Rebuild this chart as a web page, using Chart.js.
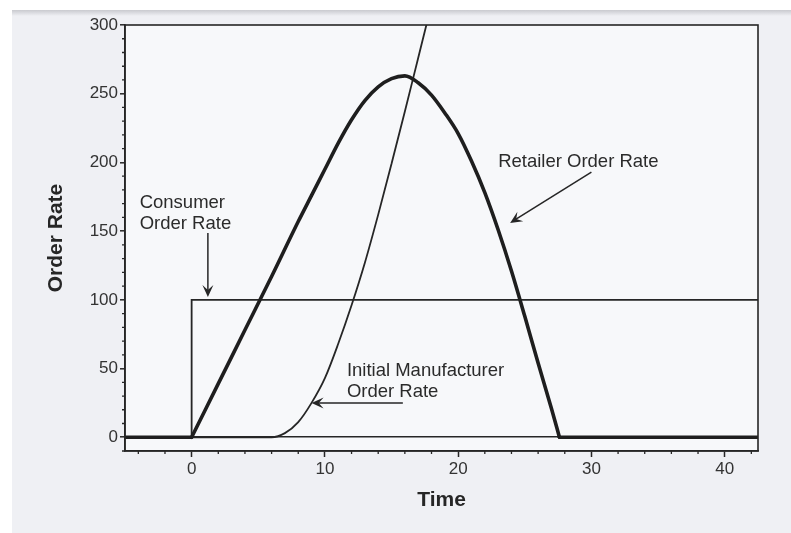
<!DOCTYPE html>
<html>
<head>
<meta charset="utf-8">
<script src="https://cdn.jsdelivr.net/npm/chart.js@4.4.1/dist/chart.umd.min.js"></script>
<style>
  html, body { margin: 0; padding: 0; background: #ffffff; }
  #wrap { width: 791px; height: 533px; }
</style>
</head>
<body>
<div id="wrap"><canvas id="c" width="791" height="533"></canvas></div>
<script>
// ---- data ----
const xTicks = [0, 10, 20, 30, 40];
const yTicks = [0, 50, 100, 150, 200, 250, 300];

const consumerTime  = [-5, 0, 0, 42.5];
const consumerRate  = [0, 0, 100, 100];

const retailerTime  = [-5, 0, 2, 4, 6, 8, 9, 10, 11, 12, 13, 14, 15, 16, 17, 18, 19, 20, 21, 22, 23, 24, 25, 26, 27, 27.6, 42.5];
const retailerRate  = [0, 0, 39, 78, 117, 157, 176, 195, 214, 231, 245, 255, 261, 263, 258, 249, 236, 221, 201, 178, 151, 121, 88, 54, 21, 0, 0];

const manufTime     = [-5, 6, 7, 8, 9, 10, 11, 12, 13, 14, 15, 16, 17, 18];
const manufRate     = [0, 0, 3, 11, 25, 43, 68, 96, 127, 162, 199, 237, 276, 315];

// annotation labels (text, anchor in data units) and arrows (from -> to, data units)
const labelTexts  = [["Consumer", "Order Rate"], ["Retailer Order Rate"], ["Initial Manufacturer", "Order Rate"]];
const labelAnchor = [[-3.9, 170.5], [23.0, 200.4], [11.65, 48.3]];
const arrowFrom   = [[1.22, 148.7], [30.0, 193], [15.85, 25]];
const arrowTo     = [[1.22, 102], [23.9, 156], [9.0, 25]];

const toPts = (xs, ys) => xs.map((x, i) => ({ x: x, y: ys[i] }));
const retailerPts = toPts(retailerTime, retailerRate);
const rampStart = retailerRate.findIndex((v, i) => i > 0 && v > 0) - 1;   // last zero before the rise
let rampEnd = retailerRate.length - 1;
while (rampEnd > 0 && retailerRate[rampEnd - 1] === 0) rampEnd--;          // first zero after the fall

const INK = '#262626';

const decorPlugin = {
  id: 'decor',
  beforeDraw(chart) {
    const { ctx, chartArea: a } = chart;
    ctx.save();
    ctx.fillStyle = '#ffffff';
    ctx.fillRect(0, 0, chart.width, chart.height);
    ctx.fillStyle = '#eff0f4';
    ctx.fillRect(12, 11, chart.width - 12, chart.height - 11);
    const g = ctx.createLinearGradient(0, 10, 0, 16);
    g.addColorStop(0, '#c9cacf');
    g.addColorStop(1, '#eff0f4');
    ctx.fillStyle = g;
    ctx.fillRect(12, 10, chart.width - 12, 6);
    ctx.fillStyle = '#f7f8fa';
    ctx.fillRect(a.left, a.top, a.right - a.left, a.bottom - a.top);
    ctx.restore();
  },
  afterDraw(chart) {
    const { ctx, chartArea: a, scales } = chart;
    const xs = scales.x, ys = scales.y;
    ctx.save();
    // frame
    ctx.strokeStyle = INK;
    ctx.lineWidth = 1.6;
    ctx.strokeRect(a.left, a.top, a.right - a.left, a.bottom - a.top);
    // minor ticks
    ctx.lineWidth = 1.3;
    ctx.beginPath();
    for (let v = -10; v <= 300; v += 10) {
      if (v % 50 === 0) continue;
      const p = ys.getPixelForValue(v);
      ctx.moveTo(a.left - 3, p); ctx.lineTo(a.left, p);
    }
    for (let t = -4; t <= 42; t += 2) {
      if (t % 10 === 0) continue;
      const p = xs.getPixelForValue(t);
      ctx.moveTo(p, a.bottom); ctx.lineTo(p, a.bottom + 3);
    }
    ctx.stroke();
    // labels
    ctx.fillStyle = '#2b2b2b';
    ctx.font = '18.5px "Liberation Sans", Arial, sans-serif';
    ctx.textBaseline = 'middle';
    ctx.textAlign = 'left';
    labelTexts.forEach((lines, i) => {
      const x = xs.getPixelForValue(labelAnchor[i][0]);
      const y = ys.getPixelForValue(labelAnchor[i][1]);
      lines.forEach((ln, j) => ctx.fillText(ln, x, y + j * 21));
    });
    // arrows
    ctx.strokeStyle = INK;
    ctx.fillStyle = INK;
    ctx.lineWidth = 1.5;
    arrowFrom.forEach((f, i) => {
      const x1 = xs.getPixelForValue(f[0]), y1 = ys.getPixelForValue(f[1]);
      const x2 = xs.getPixelForValue(arrowTo[i][0]), y2 = ys.getPixelForValue(arrowTo[i][1]);
      const ang = Math.atan2(y2 - y1, x2 - x1);
      ctx.beginPath();
      ctx.moveTo(x1, y1); ctx.lineTo(x2 - 6 * Math.cos(ang), y2 - 6 * Math.sin(ang));
      ctx.stroke();
      const L = 12, W = 5.5;
      const bx = x2 - L * Math.cos(ang), by = y2 - L * Math.sin(ang);
      const nx = -Math.sin(ang), ny = Math.cos(ang);
      const mx = x2 - (L * 0.6) * Math.cos(ang), my = y2 - (L * 0.6) * Math.sin(ang);
      ctx.beginPath();
      ctx.moveTo(x2, y2);
      ctx.lineTo(bx + nx * W, by + ny * W);
      ctx.lineTo(mx, my);
      ctx.lineTo(bx - nx * W, by - ny * W);
      ctx.closePath();
      ctx.fill();
    });
    ctx.restore();
  }
};

const thick = { borderColor: '#1e1e1e', borderWidth: 3.6, pointRadius: 0, borderCapStyle: 'round', borderJoinStyle: 'round', order: 1 };

new Chart(document.getElementById('c'), {
  type: 'line',
  data: {
    datasets: [
      { label: 'Consumer Order Rate', data: toPts(consumerTime, consumerRate),
        borderColor: INK, borderWidth: 1.8, pointRadius: 0, tension: 0, order: 3 },
      { label: 'Initial Manufacturer Order Rate', data: toPts(manufTime, manufRate),
        borderColor: INK, borderWidth: 1.8, pointRadius: 0, cubicInterpolationMode: 'monotone', order: 2 },
      Object.assign({ label: 'Retailer Order Rate', data: retailerPts.slice(rampStart, rampEnd + 1),
        cubicInterpolationMode: 'monotone' }, thick),
      Object.assign({ label: 'Retailer (before)', data: retailerPts.slice(0, rampStart + 1), tension: 0 }, thick),
      Object.assign({ label: 'Retailer (after)', data: retailerPts.slice(rampEnd), tension: 0 }, thick)
    ]
  },
  options: {
    responsive: false,
    animation: false,
    events: [],
    layout: { padding: { top: 25, right: 33, left: 0, bottom: 0 } },
    plugins: { legend: { display: false }, tooltip: { enabled: false } },
    scales: {
      x: {
        type: 'linear', min: -5, max: 42.5,
        afterBuildTicks: s => { s.ticks = xTicks.map(v => ({ value: v })); },
        afterFit: s => { s.height = 82; },
        grid: { drawOnChartArea: false, drawTicks: true, tickLength: 6, tickColor: INK, tickWidth: 1.5 },
        border: { display: true, color: INK, width: 1.6 },
        ticks: { color: '#333', padding: 2, font: { family: '"Liberation Sans", Arial, sans-serif', size: 17 }, maxRotation: 0 },
        title: { display: true, text: 'Time', color: '#262626',
          font: { family: '"Liberation Sans", Arial, sans-serif', size: 21, weight: 'bold' },
          padding: { top: 0, bottom: 20 } }
      },
      y: {
        type: 'linear', min: -10, max: 300,
        afterBuildTicks: s => { s.ticks = yTicks.map(v => ({ value: v })); },
        afterFit: s => { s.width = 125; },
        grid: { drawOnChartArea: true, drawTicks: true, tickLength: 5, tickWidth: 1.5, tickColor: INK,
          color: c => (c.tick && c.tick.value === 0) ? INK : 'rgba(0,0,0,0)', lineWidth: 1.6 },
        border: { display: true, color: INK, width: 1.6 },
        ticks: { color: '#333', padding: 2, font: { family: '"Liberation Sans", Arial, sans-serif', size: 17 } },
        title: { display: true, text: 'Order Rate', color: '#262626',
          font: { family: '"Liberation Sans", Arial, sans-serif', size: 21, weight: 'bold' },
          padding: { top: 44, bottom: 0 } }
      }
    }
  },
  plugins: [decorPlugin]
});
</script>
</body>
</html>
